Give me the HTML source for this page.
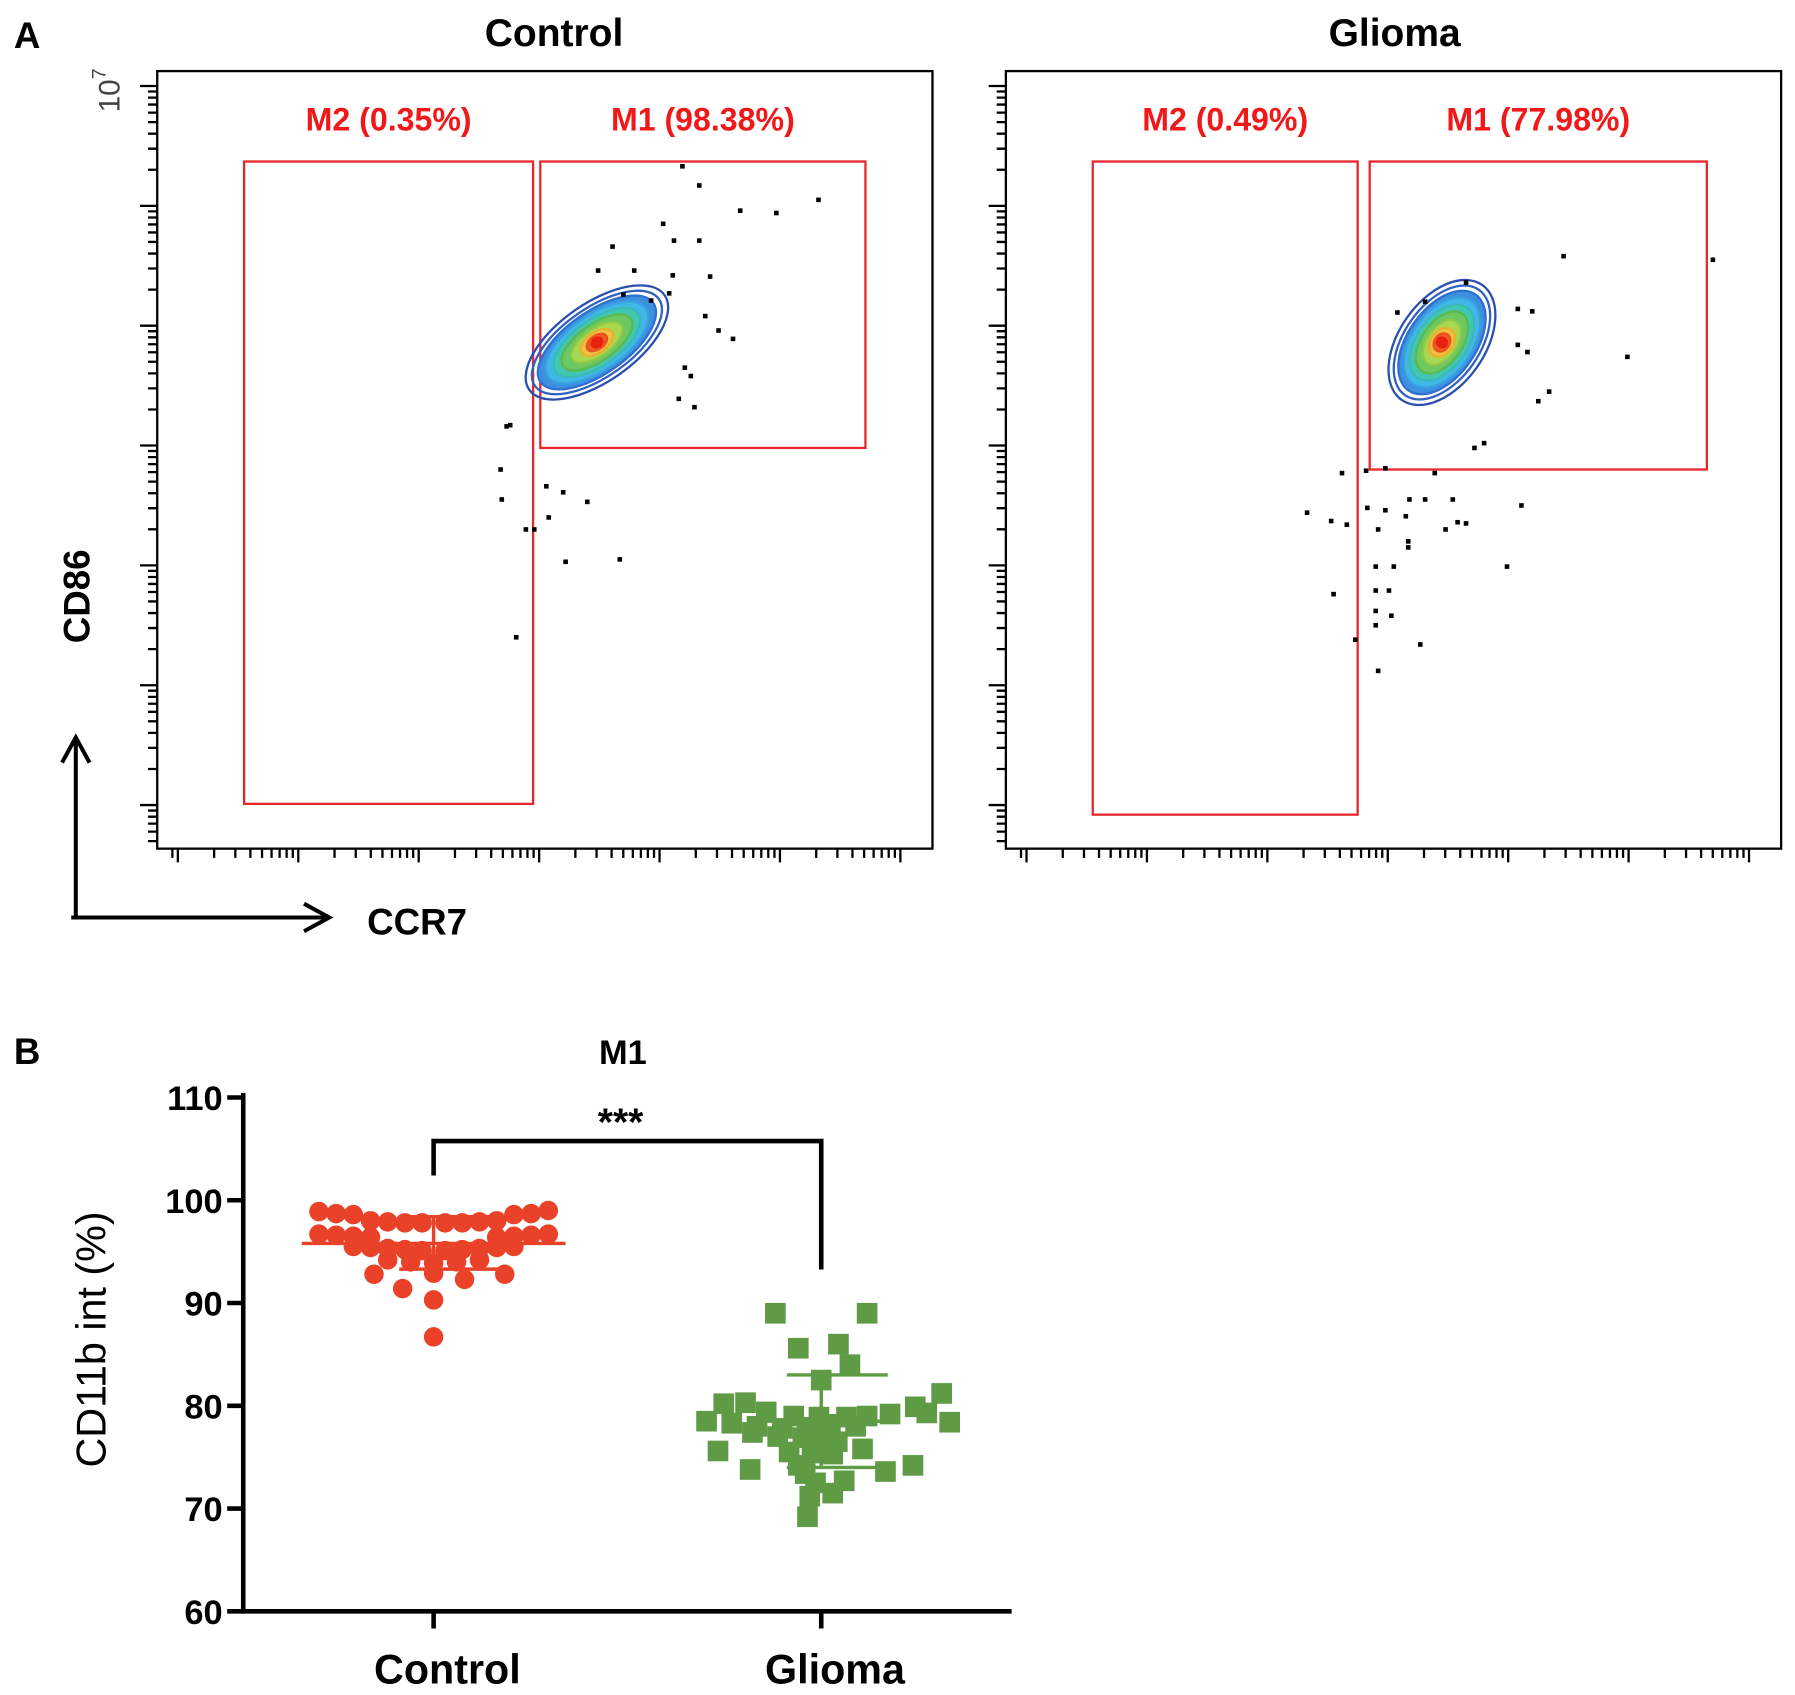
<!DOCTYPE html>
<html><head><meta charset="utf-8"><style>
html,body{margin:0;padding:0;background:#fff}
svg{display:block;font-family:"Liberation Sans",Arial,sans-serif}
</style></head><body>
<svg id="fig" width="1795" height="1695" viewBox="0 0 1565 1478">
<g id="A">
<text x="12" y="42" font-size="32" font-weight="bold">A</text>
<text x="483" y="40" font-size="34" font-weight="bold" text-anchor="middle">Control</text>
<text x="1216" y="40" font-size="34" font-weight="bold" text-anchor="middle">Glioma</text>
<text transform="translate(104,98) rotate(-90)" font-size="26" fill="#444">10<tspan dy="-12" font-size="17">7</tspan></text>
<text transform="translate(78,520) rotate(-90)" font-size="32" font-weight="bold" text-anchor="middle">CD86</text>
<text x="320" y="815" font-size="32" font-weight="bold">CCR7</text>
<path d="M66 800 V645 M54 665 L66 643 L78 665 M62 800 H285 M265 788 L287 800 L265 812" stroke="#000" stroke-width="3.5" fill="none"/>
</g>
<g id="B">
<text x="12" y="928" font-size="32" font-weight="bold">B</text>
<text x="543" y="928" font-size="30" font-weight="bold" text-anchor="middle">M1</text>
<text transform="translate(92,1168) rotate(-90)" font-size="36" text-anchor="middle">CD11b int (%)</text>
</g>
</svg>
<script>
// ---------- Panel A data (log10 decades) ----------
const ctrlDotsX=[5.19,5.33,5.03,5.67,5.97,6.32,5.12,5.33,4.61,4.49,4.79,5.11,5.42,5.08,4.70,4.93,5.38,5.61,5.49,5.21,5.26,5.16,5.29,3.76,3.73,3.68,3.69,3.89,4.06,4.20,4.40,4.22,4.67,3.81,3.96,4.08];
const ctrlDotsY=[6.33,6.17,5.85,5.96,5.94,6.05,5.71,5.71,5.66,5.46,5.46,5.42,5.41,5.27,5.26,5.21,5.08,4.89,4.96,4.65,4.58,4.39,4.32,4.17,4.16,3.80,3.55,3.30,3.66,3.61,3.53,3.03,3.05,2.40,3.30,3.40];
const gliDotsX=[5.46,6.70,5.99,5.08,5.20,5.08,5.16,5.34,5.25,4.65,4.31,4.08,4.80,4.72,3.62,3.82,3.98,4.39,4.18,4.31,4.54,5.11,3.33,3.53,3.66,3.83,3.98,4.15,3.92,4.17,4.17,4.48,4.58,4.65,4.99,3.55,3.90,4.05,4.01,3.90,3.90,3.90,4.03,3.73,4.27,3.92];
const gliDotsY=[5.58,5.55,4.74,5.14,5.12,4.84,4.78,4.45,4.37,5.36,5.20,5.11,4.02,3.98,3.77,3.79,3.81,3.77,3.55,3.55,3.55,3.50,3.44,3.37,3.34,3.48,3.46,3.41,3.30,3.20,3.15,3.30,3.36,3.35,2.99,2.76,2.99,2.99,2.79,2.79,2.62,2.50,2.58,2.38,2.34,2.12];
const gateLabels=[["M2 (0.35%)","M1 (98.38%)"],["M2 (0.49%)","M1 (77.98%)"]];
const m2Gate=[[1.55,3.95,6.37,1.01],[1.55,3.75,6.37,0.92]]; // x0,x1,yTop,yBottom decades
const m1Gate=[[4.01,6.71,6.37,3.98],[3.85,6.65,6.37,3.80]];
const contourCenterX=[4.48,4.45], contourCenterY=[4.86,4.86];

const NS="http://www.w3.org/2000/svg";
const svg=document.getElementById('fig');
function mk(tag,attrs,parent){const e=document.createElementNS(NS,tag);for(const k in attrs)e.setAttribute(k,attrs[k]);(parent||svg).appendChild(e);return e;}
const panelOff=[0,740];
function xLog(d,p){return 50+d*105+panelOff[p];}
function yLog(d){return 75+(7-d)*104.5;}

for(let p=0;p<2;p++){
  const g=mk('g',{});
  
  
  const L=137+panelOff[p],R=813+panelOff[p];
  const fr=mk('rect',{x:L,y:62,width:R-L,height:678,fill:'none',stroke:'#000','stroke-width':2},g);
  
  let tp='';
  for(let d=0;d<=7;d++){for(let m=1;m<10;m++){const v=d+Math.log10(m);if(v>7.05)continue;const y=yLog(v);if(y>736||y<64)continue;const len=m==1?15:8;tp+=`M${L} ${y}H${L-len}`;}}
  for(let d=0;d<=7;d++){for(let m=1;m<10;m++){const v=d+Math.log10(m);const x=xLog(v,p);if(x<L+8||x>R-4)continue;const len=m==1?12:8;tp+=`M${x} 740V${740+len}`;}}
  const tk=mk('path',{d:tp,stroke:'#000','stroke-width':2,fill:'none'},g);
  
  [m2Gate[p],m1Gate[p]].forEach((gt,i)=>{
    const r=mk('rect',{x:xLog(gt[0],p),y:yLog(gt[2]),width:xLog(gt[1],p)-xLog(gt[0],p),height:yLog(gt[3])-yLog(gt[2]),fill:'none',stroke:'#e8262b','stroke-width':2},g);
    
    const t=mk('text',{x:(xLog(gt[0],p)+xLog(gt[1],p))/2,y:114,'font-size':28,'font-weight':'bold',fill:'#f01818','text-anchor':'middle'},g);
    t.textContent=gateLabels[p][i];
    
  });
  const cx=xLog(contourCenterX[p],p),cy=yLog(contourCenterY[p]);
  const rot=p?-55:-35;
  const cg=mk('g',{transform:`translate(${cx},${cy}) rotate(${rot})`},g);
  
  const levels=[[72,34,'none','#2a4fb0'],[66,30,'none','#3060c0'],[60,27,'#3d8fe0','#2f6fd0'],[52,24,'#3fb8e8','#3aa0e0'],[44,20,'#40c8b0','#3cb8b8'],[36,16,'#6cc860','#5cb850'],[26,12,'#a8d850','#90c848'],[16,9,'#f0c040','#e8b030'],[10,6,'#f06020','#e85020'],[5,4,'#e82010','#e82010']];
  levels.forEach(l=>{const e=mk('ellipse',{cx:0,cy:0,rx:l[0]*(p?0.85:1),ry:l[1]*(p?1.1:1),fill:l[2],stroke:l[3],'stroke-width':2},cg);});
  const X=p?gliDotsX:ctrlDotsX,Y=p?gliDotsY:ctrlDotsY;
  for(let i=0;i<X.length;i++){
    const c=mk('rect',{x:xLog(X[i],p)-2,y:yLog(Y[i])-2,width:4,height:4,fill:'#000'},g);
    
  }
}

// ---------- Panel B data ----------
const categories=["Control","Glioma"];
const yTicks=[60,70,80,90,100,110];
const controlValues=[98.9,98.7,98.6,98.6,98.7,99.0, 98.0,97.9,97.8,97.8,97.8,97.8,97.9,98.0, 96.7,96.6,96.5,96.4,96.4,96.5,96.6,96.7, 95.5,95.4,95.3,95.2,95.1,95.1,95.2,95.3,95.4,95.5, 94.2,94.0,93.9,94.0,94.2, 92.8,92.9,92.8, 91.4,92.3,90.3,86.7];
const controlJitter=[-100,-85,-70,70,85,100, -55,-40,-25,-10,10,25,40,55, -100,-85,-70,-55,55,70,85,100, -70,-55,-40,-25,-10,10,25,40,55,70, -40,-20,0,20,40, -52,0,62, -27,27,0,0];
const gliomaValues=[89.0,89.0,85.6,86.0,84.0,82.5,80.2,80.3,81.2,79.9,79.4,79.2,79.0,78.9,78.9,79.0,79.3,78.5,78.3,78.0,77.8,77.9,78.2,78.0,78.4,77.4,77.0,76.9,76.6,77.1,76.5,75.6,75.5,75.4,75.3,75.8,74.2,73.8,73.6,73.4,72.7,72.5,74.2,71.2,71.5,69.2];
const gliomaJitter=[-40,40,-20,15,25,0,-85,-66,105,82,-48,60,-24,-2,22,40,92,-100,-78,-56,-34,-12,8,30,112,-60,-38,-16,-2,-4,14,-90,-28,-8,10,36,-20,-62,56,-14,20,-5,80,-10,10,-12];
const controlMean=95.8,controlSD=[98.4,93.3];
const gliomaMean=78.5,gliomaSD=[83.0,74.0];

const yB=v=>1405-(v-60)*8.96;
const xB=i=>[378,716][i];
const gb=mk('g',{});

const ax=mk('path',{d:'M212 953V1405H882',stroke:'#000','stroke-width':4,fill:'none'},gb);

yTicks.forEach(v=>{
  const t=mk('path',{d:`M198 ${yB(v)}H212`,stroke:'#000','stroke-width':4},gb);
  
  const l=mk('text',{x:194,y:yB(v)+11,'font-size':30,'font-weight':'bold','text-anchor':'end'},gb);
  l.textContent=v;
  
});
categories.forEach((c,i)=>{
  const t=mk('path',{d:`M${xB(i)} 1405V1420`,stroke:'#000','stroke-width':4},gb);
  
  const l=mk('text',{x:xB(i)+12,y:1468,'font-size':36,'font-weight':'bold','text-anchor':'middle'},gb);
  l.textContent=c;
  
});
controlValues.forEach((v,i)=>{
  const c=mk('circle',{cx:xB(0)+controlJitter[i],cy:yB(v),r:8.5,fill:'#ea4228'},gb);
  
});
gliomaValues.forEach((v,i)=>{
  const r=mk('rect',{x:xB(1)+gliomaJitter[i]-9,y:yB(v)-9,width:18,height:18,fill:'#5f9a45'},gb);
  
});
[[0,controlMean,controlSD,'#ea4228',115],[1,gliomaMean,gliomaSD,'#5f9a45',58]].forEach(s=>{
  const x=xB(s[0]);
  const p=mk('path',{d:`M${x-s[4]} ${yB(s[1])}H${x+s[4]} M${x-30} ${yB(s[2][0])}H${x+58} M${x-30} ${yB(s[2][1])}H${x+58} M${x} ${yB(s[2][0])}V${yB(s[2][1])}`,stroke:s[3],'stroke-width':3,fill:'none'},gb);
  
});
const br=mk('path',{d:`M${xB(0)} 1025V995H${xB(1)}V1107`,stroke:'#000','stroke-width':4,fill:'none'},gb);

const st=mk('text',{x:541,y:990,'font-size':34,'font-weight':'bold','text-anchor':'middle'},gb);
st.textContent='***';

</script>
</body></html>
